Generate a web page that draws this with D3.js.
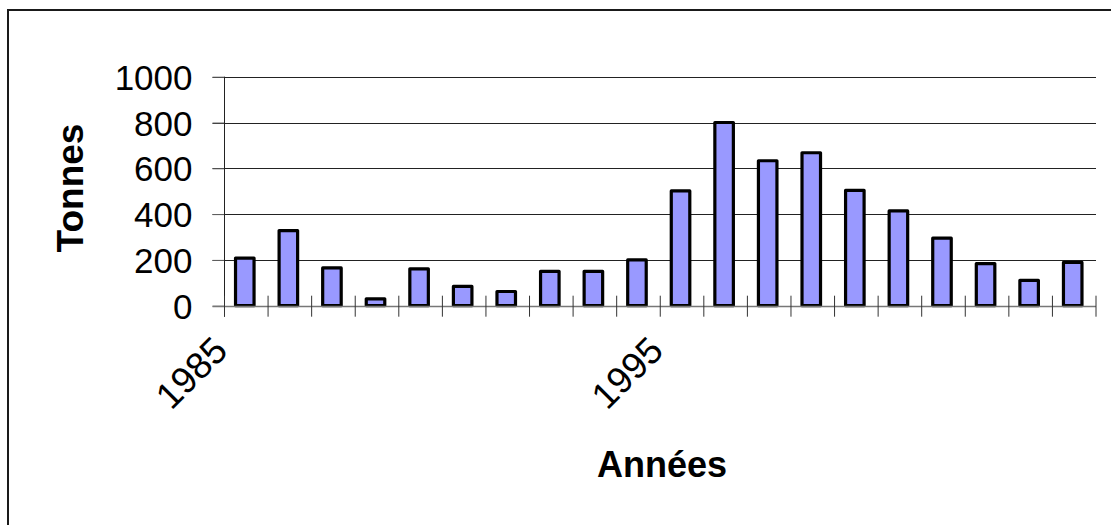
<!DOCTYPE html>
<html>
<head>
<meta charset="utf-8">
<script src="https://cdn.jsdelivr.net/npm/d3@7"></script>
<style>
  html, body { margin: 0; padding: 0; background: #fff; }
  svg { display: block; font-family: "Liberation Sans", Arial, sans-serif; }
</style>
</head>
<body>
<svg id="chart" width="1111" height="525"></svg>
<script>
// Annual tonnage, 1985–2004
const years = [1985, 1986, 1987, 1988, 1989, 1990, 1991, 1992, 1993, 1994,
               1995, 1996, 1997, 1998, 1999, 2000, 2001, 2002, 2003, 2004];
const tonnes = [208, 328, 165, 30, 161, 84, 62, 150, 150, 200,
                501, 800, 633, 668, 504, 414, 295, 184, 111, 189];
const yTicks = [0, 200, 400, 600, 800, 1000];
const yearLabels = [1985, 1995];

const svg = d3.select("#chart");

// outer frame
svg.append("rect")
  .attr("x", 8).attr("y", 10)
  .attr("width", 1130).attr("height", 540)
  .attr("fill", "none").attr("stroke", "#1a1a1a").attr("stroke-width", 2);

const plotLeft = 224.5, plotRight = 1096, plotTop = 76.7, plotBottom = 305.7;

const x = d3.scaleBand()
  .domain(years)
  .range([plotLeft, plotRight])
  .paddingInner(0.575)
  .paddingOuter(0.2875);

const y = d3.scaleLinear().domain([0, 1000]).range([plotBottom, plotTop]);

// horizontal gridlines with outside ticks
svg.append("g")
  .selectAll("line")
  .data(yTicks.filter(d => d > 0))
  .join("line")
  .attr("x1", plotLeft - 12).attr("x2", plotRight)
  .attr("y1", d => Math.round(y(d)) + 0.5)
  .attr("y2", d => Math.round(y(d)) + 0.5)
  .attr("stroke", "#222").attr("stroke-width", 1);

// value axis
const yAxis = svg.append("g")
  .attr("transform", `translate(${plotLeft},0)`)
  .call(d3.axisLeft(y).tickValues(yTicks).tickSize(12).tickPadding(20).tickFormat(d3.format("d")));
yAxis.select(".domain").remove();
yAxis.selectAll(".tick line").attr("stroke", "#666");
yAxis.selectAll(".tick text")
  .attr("font-size", 35).attr("fill", "#000")
  .attr("font-family", "Liberation Sans, Arial, sans-serif")
  .attr("dy", "0.36em");
svg.append("line")
  .attr("x1", plotLeft).attr("x2", plotLeft)
  .attr("y1", plotTop).attr("y2", plotBottom + 11)
  .attr("stroke", "#222").attr("stroke-width", 1);

// bars
svg.append("g")
  .selectAll("rect")
  .data(years.map((yr, i) => ({ yr, v: tonnes[i] })))
  .join("rect")
  .attr("x", d => x(d.yr) - 1.5)
  .attr("y", d => y(d.v))
  .attr("width", x.bandwidth())
  .attr("height", d => y(0) - y(d.v))
  .attr("fill", "#9999ff")
  .attr("stroke", "#000")
  .attr("stroke-width", 3.2)
  .attr("stroke-linejoin", "round");

// category axis with crossing ticks at band boundaries
const tickPos = d3.range(years.length + 1)
  .map(i => plotLeft + i * (plotRight - plotLeft) / years.length);
svg.append("line")
  .attr("x1", plotLeft - 12).attr("x2", plotRight)
  .attr("y1", Math.round(plotBottom) + 0.5).attr("y2", Math.round(plotBottom) + 0.5)
  .attr("stroke", "#777").attr("stroke-width", 1.5);
svg.append("g")
  .selectAll("line")
  .data(tickPos)
  .join("line")
  .attr("x1", d => d).attr("x2", d => d)
  .attr("y1", plotBottom - 10).attr("y2", plotBottom + 11)
  .attr("stroke", "#333").attr("stroke-width", 1);

// rotated year labels at the left boundary of their category
svg.append("g")
  .selectAll("text")
  .data(yearLabels)
  .join("text")
  .attr("transform", d => {
    const i = years.indexOf(d);
    return `translate(${tickPos[i] + 5},${plotBottom + 47}) rotate(-45)`;
  })
  .attr("text-anchor", "end")
  .attr("font-size", 37)
  .attr("fill", "#000")
  .text(d => d);

// axis titles
svg.append("text")
  .attr("transform", "translate(83,188) rotate(-90)")
  .attr("text-anchor", "middle")
  .attr("font-size", 37).attr("font-weight", "bold")
  .text("Tonnes");

svg.append("text")
  .attr("x", 662).attr("y", 477)
  .attr("text-anchor", "middle")
  .attr("font-size", 36).attr("font-weight", "bold")
  .text("Années");
</script>
</body>
</html>
